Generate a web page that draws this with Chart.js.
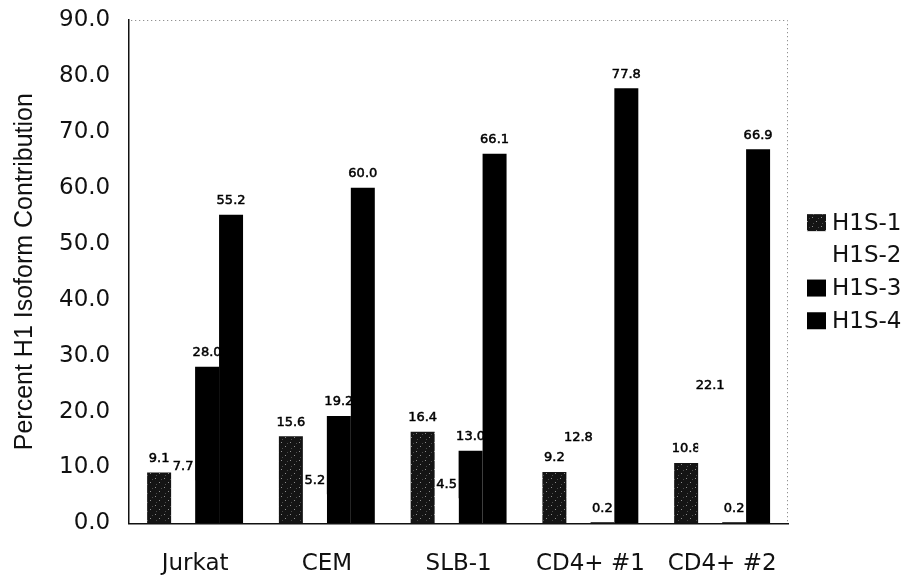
<!DOCTYPE html>
<html>
<head>
<meta charset="utf-8">
<script src="https://cdn.jsdelivr.net/npm/chart.js@4/dist/chart.umd.min.js"></script>
<style>
  html, body { margin: 0; padding: 0; background: #fff; }
  #wrap { width: 909px; height: 575px; }
</style>
</head>
<body>
<div id="wrap"><canvas id="c" width="909" height="575"></canvas></div>
<script>
// Cell lines / donors on the x axis
const categories = ['Jurkat', 'CEM', 'SLB-1', 'CD4+ #1', 'CD4+ #2'];

// Percent contribution of each H1 isoform
const h1s1 = [9.1, 15.6, 16.4, 9.2, 10.8];
const h1s2 = [7.7, 5.2, 4.5, 12.8, 22.1];
const h1s3 = [28.0, 19.2, 13.0, 0.2, 0.2];
const h1s4 = [55.2, 60.0, 66.1, 77.8, 66.9];

const seriesNames = ['H1S-1', 'H1S-2', 'H1S-3', 'H1S-4'];

// Speckled dark fill used for H1S-1
function speckle() {
  const t = document.createElement('canvas');
  t.width = 9; t.height = 9;
  const g = t.getContext('2d');
  g.fillStyle = '#141414';
  g.fillRect(0, 0, 9, 9);
  g.fillStyle = '#8c8c8c';
  g.fillRect(2, 1, 1, 1);
  g.fillRect(6, 5, 1, 1);
  g.fillStyle = '#4a4a4a';
  g.fillRect(3, 7, 1, 1);
  g.fillRect(8, 2, 1, 1);
  return g.createPattern(t, 'repeat');
}
const speckleFill = speckle();

const FONT = '"DejaVu Sans", Verdana, sans-serif';

// Value labels go under the bars so neighbouring bars can overlap them
const valueLabels = {
  id: 'valueLabels',
  beforeDatasetsDraw(chart) {
    const ctx = chart.ctx;
    ctx.save();
    ctx.font = '13px ' + FONT;
    ctx.fillStyle = '#000';
    ctx.strokeStyle = '#000';
    ctx.lineWidth = 0.5;
    ctx.textAlign = 'center';
    ctx.textBaseline = 'middle';
    chart.data.datasets.forEach((ds, i) => {
      const meta = chart.getDatasetMeta(i);
      meta.data.forEach((bar, j) => {
        const txt = ds.data[j].toFixed(1);
        ctx.fillText(txt, bar.x, bar.y - 14);
        ctx.strokeText(txt, bar.x, bar.y - 14);
      });
    });
    ctx.restore();
  }
};

// Dotted top/right frame of the plot area
const frame = {
  id: 'frame',
  afterDatasetsDraw(chart) {
    const {ctx, chartArea: a} = chart;
    ctx.save();
    ctx.strokeStyle = '#777';
    ctx.lineWidth = 1;
    ctx.setLineDash([1, 3]);
    ctx.beginPath();
    ctx.moveTo(a.left + 2, a.top + 0.5);
    ctx.lineTo(a.right - 0.5, a.top + 0.5);
    ctx.lineTo(a.right - 0.5, a.bottom);
    ctx.stroke();
    ctx.restore();
  }
};

// Legend to the right of the plot
const sideLegend = {
  id: 'sideLegend',
  afterDraw(chart) {
    const {ctx, chartArea: a} = chart;
    const mid = (a.top + a.bottom) / 2;
    const step = 32.7;
    const n = chart.data.datasets.length;
    ctx.save();
    ctx.font = '23px ' + FONT;
    ctx.textBaseline = 'middle';
    ctx.textAlign = 'left';
    chart.data.datasets.forEach((ds, i) => {
      const cy = mid + (i - (n - 1) / 2) * step;
      ctx.fillStyle = ds.backgroundColor;
      ctx.fillRect(a.right + 19, cy - 8.5, 19, 17);
      ctx.fillStyle = '#111';
      ctx.fillText(ds.label, a.right + 44, cy + 1);
    });
    ctx.restore();
  }
};

new Chart(document.getElementById('c'), {
  type: 'bar',
  data: {
    labels: categories,
    datasets: [
      { label: seriesNames[0], data: h1s1, backgroundColor: speckleFill },
      { label: seriesNames[1], data: h1s2, backgroundColor: '#ffffff' },
      { label: seriesNames[2], data: h1s3, backgroundColor: '#000000' },
      { label: seriesNames[3], data: h1s4, backgroundColor: '#000000' }
    ]
  },
  options: {
    responsive: false,
    animation: false,
    devicePixelRatio: 1,
    layout: { padding: { top: 20, right: 121, bottom: -30, left: 0 } },
    datasets: {
      bar: { categoryPercentage: 0.728, barPercentage: 1.0, borderWidth: 0 }
    },
    plugins: {
      legend: { display: false },
      tooltip: { enabled: false }
    },
    scales: {
      x: {
        grid: { display: false, drawTicks: false },
        border: { display: true, color: '#111', width: 1.5 },
        ticks: { font: { family: FONT, size: 23 }, color: '#111', padding: 27, maxRotation: 0 }
      },
      y: {
        min: 0,
        max: 90,
        grid: { display: true, drawOnChartArea: false, drawTicks: true, tickLength: 14, color: 'rgba(0,0,0,0)' },
        border: { display: true, color: '#111', width: 1.5 },
        ticks: {
          stepSize: 10,
          font: { family: FONT, size: 23 },
          color: '#111',
          padding: 5,
          callback: v => Number(v).toFixed(1)
        },
        title: {
          display: true,
          text: 'Percent H1 Isoform Contribution',
          font: { family: '"Liberation Sans", Arial, sans-serif', size: 25 },
          color: '#111',
          padding: { top: 10, bottom: 14 }
        }
      }
    }
  },
  plugins: [valueLabels, frame, sideLegend]
});
</script>
</body>
</html>
